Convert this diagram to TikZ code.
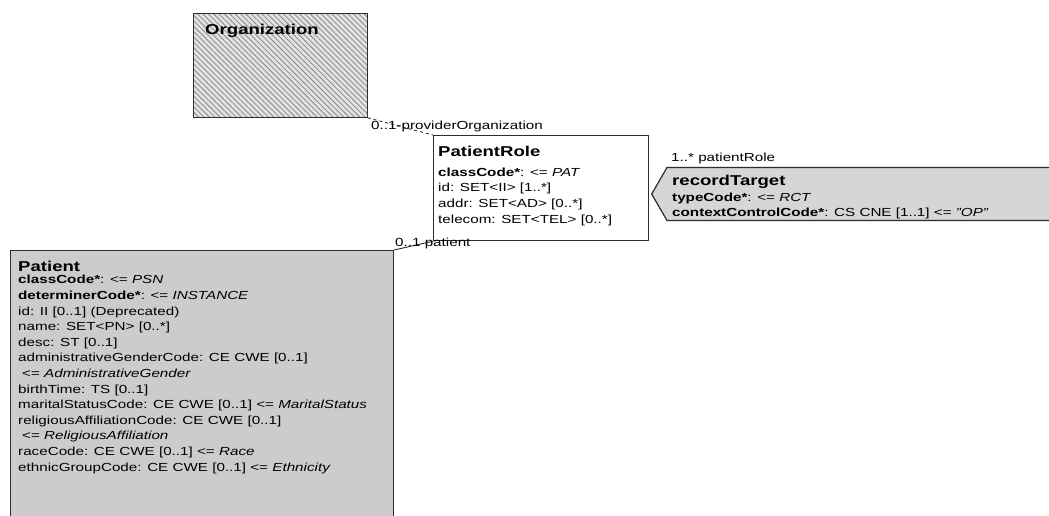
\documentclass[tikz,border=0pt]{standalone}
\usepackage{fontspec}
\setmainfont[FakeStretch=1.3]{Liberation Sans}
\usetikzlibrary{calc,shapes.symbols,patterns.meta}
\definecolor{umlline}{RGB}{45,45,45}
\definecolor{hatchbg}{RGB}{226,226,226}
\definecolor{hatchline}{RGB}{135,135,135}
\definecolor{entitybg}{RGB}{204,204,204}
\definecolor{actbg}{RGB}{214,214,214}
\newcommand{\attrfont}{\fontsize{11.7}{15.6}\selectfont}
\newcommand{\titlefont}{\fontsize{14.3}{16}\selectfont\bfseries}
\tikzset{
  classbox/.style={draw=umlline, line width=1.2pt, anchor=north west,
    inner sep=0pt},
  rolebox/.style={classbox, fill=white},
  entitybox/.style={classbox, fill=entitybg},
  scopingbox/.style={classbox, preaction={fill=hatchbg},
    pattern={Lines[angle=-45, distance=3.8pt, line width=0.8pt]},
    pattern color=hatchline},
  actbox/.style={signal, signal to=west, signal pointer angle=120,
    draw=umlline, line width=1.2pt, fill=actbg, anchor=west, inner sep=0pt},
  classtitle/.style={anchor=base west, inner sep=0pt, font=\titlefont},
  attrlist/.style={anchor=base west, inner sep=0pt, align=left,
    font=\attrfont},
  rolelabel/.style={anchor=base west, inner sep=0pt, font=\attrfont},
  assoc/.style={draw=umlline, line width=0.9pt}
}

\begin{document}
\begin{tikzpicture}[x=1pt, y=-1pt]
  \useasboundingbox (0,0) rectangle (1049,515);
  \clip (0,0) rectangle (1049,515);
  \fill[white] (0,0) rectangle (1049,515);

  \node[scopingbox, minimum width=174pt, minimum height=104pt] (org)
    at (193,13) {};
  \node[rolebox, minimum width=215pt, minimum height=105pt] (pr)
    at (433,135) {};
  \node[entitybox, minimum width=383pt, minimum height=290pt] (pat)
    at (10,250) {};
  \node[actbox, minimum width=450pt, minimum height=53pt] (rt)
    at (651,194) {};

  \node[classtitle] (org-title) at ($(org.north west)+(12,21)$)
    {Organization};

  % multi-line nodes sit on their last baseline
  \node[classtitle] (pr-title) at ($(pr.north west)+(5,21)$)
    {PatientRole};
  \node[attrlist] (pr-attr) at ($(pr.north west)+(5,88)$)
    {\textbf{classCode*}: <= \textit{PAT}\\
     id: SET<II> [1..*]\\
     addr: SET<AD> [0..*]\\
     telecom: SET<TEL> [0..*]};

  \node[classtitle] (rt-title) at (672,185) {recordTarget};
  \node[attrlist] (rt-attr) at (672,216)
    {\textbf{typeCode*}: <= \textit{RCT}\\[-0.6pt]
     \textbf{contextControlCode*}: CS CNE [1..1] <= \textit{"OP"}};

  \node[classtitle] (pat-title) at ($(pat.north west)+(8,21)$)
    {Patient};
  \node[attrlist] (pat-attr) at ($(pat.north west)+(8,221)$)
    {\textbf{classCode*}: <= \textit{PSN}\\
     \textbf{determinerCode*}: <= \textit{INSTANCE}\\
     id: II [0..1] (Deprecated)\\
     name: SET<PN> [0..*]\\
     desc: ST [0..1]\\
     administrativeGenderCode: CE CWE [0..1]\\
     \hspace{4pt}<= \textit{AdministrativeGender}\\
     birthTime: TS [0..1]\\
     maritalStatusCode: CE CWE [0..1] <= \textit{MaritalStatus}\\
     religiousAffiliationCode: CE CWE [0..1]\\
     \hspace{4pt}<= \textit{ReligiousAffiliation}\\
     raceCode: CE CWE [0..1] <= \textit{Race}\\
     ethnicGroupCode: CE CWE [0..1] <= \textit{Ethnicity}};

  \draw[assoc, dashed] (org.south east) -- (pr.north west);
  \draw[assoc] (pr.south west) -- (pat.north east);

  \node[rolelabel] (org-role) at (371,129) {0..1-providerOrganization};
  \node[rolelabel] (pat-role) at (395,246) {0..1 patient};
  \node[rolelabel] (rt-role) at (671,161) {1..* patientRole};
\end{tikzpicture}
\end{document}
